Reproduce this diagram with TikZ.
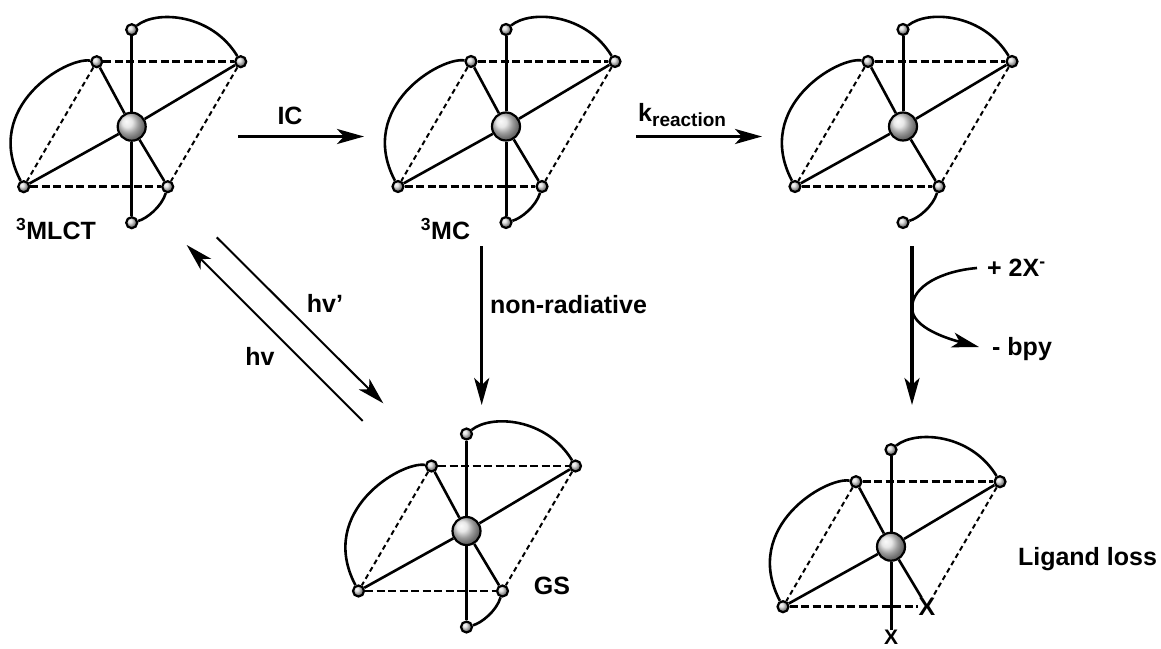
\documentclass[tikz,border=0pt]{standalone}
\usepackage{fontspec}
\setmainfont{Liberation Sans}[BoldFont={Liberation Sans Bold}]
\usetikzlibrary{arrows.meta}
\tikzset{
  bond/.style={line width=2.6pt},
  axial/.style={line width=3pt},
  backedge/.style={line width=2.6pt,dash pattern=on 8pt off 3.5pt},
  sideedge/.style={line width=2pt,dash pattern=on 5pt off 3.5pt},
  rxn/.style={line width=3.2pt,-{Stealth[length=27pt,width=15pt,inset=7pt]}},
  hvarrow/.style={line width=2pt,-{Stealth[length=27pt,width=15pt,inset=7pt]}},
  metal/.style={circle,draw=black,line width=2.2pt,minimum size=28pt,inner sep=0pt,shading=ball,ball color=gray!25},
  atom/.style={circle,draw=black,line width=2.2pt,minimum size=11pt,inner sep=0pt,shading=ball,ball color=gray!30},
  lbl/.style={font=\fontsize{25}{28}\selectfont\bfseries,inner sep=0pt},
  upper/.pic={
    \node[metal] (-m) at (0,0) {};
    \node[atom] (-top) at (0,-97) {};
    \node[atom] (-ul) at (-35,-65) {};
    \node[atom] (-ur) at (109,-65) {};
    \node[atom] (-ll) at (-108,60) {};
    \draw[axial] (-m) -- (-top);
    \draw[bond] (-m) -- (-ul);
    \draw[bond] (-m) -- (-ur);
    \draw[bond] (-m) -- (-ll);
    \draw[backedge] (-ul) -- (-ur);
    \draw[sideedge] (-ul) -- (-ll);
    \draw[bond] (-ul) .. controls +(-30,-5) and +(-42,-80) .. (-ll);
    \draw[bond] (-top) .. controls +(25,-20) and +(-29,-48) .. (-ur);
  },
  lower/.pic={
    \node[atom] (-lr) at (36,60) {};
    \node[atom] (-bot) at (0,96) {};
    \draw[bond] (-m) -- (-lr);
    \draw[backedge] (-ll) -- (-lr);
    \draw[sideedge] (-ur) -- (-lr);
    \draw[bond] (-lr) .. controls +(-6,20) and +(15,-4) .. (-bot);
  },
}
\begin{document}
\begin{tikzpicture}[x=1pt,y=-1pt]
  \useasboundingbox (0,0) rectangle (1161,648);
  % complexes
  \pic (mlct) at (131.7,126.7) {upper};
  \pic (mlct) at (131.7,126.7) {lower};
  \draw[axial] (mlct-m) -- (mlct-bot);
  \pic (mc) at (506,126.5) {upper};
  \pic (mc) at (506,126.5) {lower};
  \draw[axial] (mc-m) -- (mc-bot);
  \pic (rc) at (903,126.5) {upper};
  \pic (rc) at (903,126.5) {lower};
  \pic (gs) at (466.5,531) {upper};
  \pic (gs) at (466.5,531) {lower};
  \draw[axial] (gs-m) -- (gs-bot);
  % ligand loss product
  \pic (ll) at (891,546.7) {upper};
  \node[lbl] (xa) at (927,606.7) {X};
  \node[lbl,font=\fontsize{21}{24}\selectfont\bfseries] (xb) at (891,637) {X};
  \draw[bond] (ll-m) -- (xa);
  \draw[axial] (ll-m) -- (xb);
  \draw[backedge] (ll-ll) -- (xa);
  \draw[sideedge] (ll-ur) -- (xa);
  % labels
  \node[lbl] (tmlct) at (56,229) {\textsuperscript{3}MLCT};
  \node[lbl] (tmc) at (445.5,229) {\textsuperscript{3}MC};
  \node[lbl] (tgs) at (552,586) {GS};
  \node[lbl] (tloss) at (1087.5,559.5) {Ligand loss};
  \node[lbl] (tic) at (290,115.5) {IC};
  \node[lbl,anchor=base west] (tk) at (638,121) {k\raisebox{-5pt}{\fontsize{19}{20}\selectfont reaction}};
  \node[lbl] (tnr) at (568.5,305) {non-radiative};
  \node[lbl] (thvp) at (325,303) {hv\char"0027};
  \node[lbl] (thv) at (260,356.5) {hv};
  \node[lbl,anchor=west] (tadd) at (987,268) {+ 2X\textsuperscript{-}};
  \node[lbl,anchor=west] (tbpy) at (992,349) {- bpy};
  % arrows
  \coordinate (a1) at (238,136.5); \coordinate (a2) at (364,136.5);
  \coordinate (b1) at (636,136.5); \coordinate (b2) at (762,136.5);
  \coordinate (c1) at (481.7,246); \coordinate (c2) at (481.7,405);
  \coordinate (d1) at (912,246); \coordinate (d2) at (912,405);
  \coordinate (e1) at (216.7,237.3); \coordinate (e2) at (383.3,403.3);
  \coordinate (f1) at (362.7,421); \coordinate (f2) at (186.7,245);
  \coordinate (g1) at (977,268); \coordinate (g2) at (912,308); \coordinate (g3) at (979,347);
  \draw[rxn] (a1) -- (a2);
  \draw[rxn] (b1) -- (b2);
  \draw[rxn] (c1) -- (c2);
  \draw[rxn] (d1) -- (d2);
  \draw[hvarrow] (e1) -- (e2);
  \draw[hvarrow] (f1) -- (f2);
  \draw[bond] (g1) .. controls +(-35,3) and +(0,-22) .. (g2);
  \draw[bond,-{Stealth[length=27pt,width=15pt,inset=7pt]}] (g2) .. controls +(0,20) and +(-30,-8) .. (g3);
\end{tikzpicture}
\end{document}
